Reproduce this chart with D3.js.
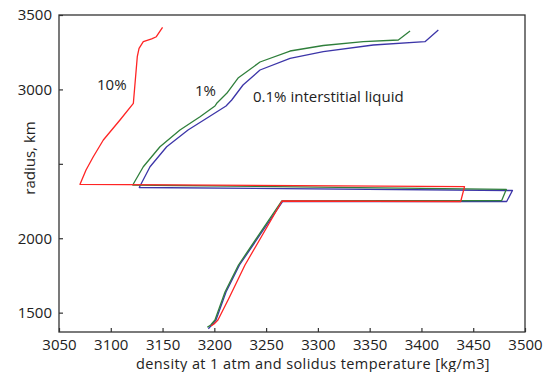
<!DOCTYPE html>
<html>
<head>
<meta charset="utf-8">
<script src="https://cdn.jsdelivr.net/npm/d3@7"></script>
<style>
body { margin:0; background:#fff; }
svg text { font-family:"Open Sans", "Noto Sans", sans-serif; fill:#222; }
.axis path { display:none; }
.axis line { stroke:#333; stroke-width:1.2; }
.axis text { font-size:15px; }
.curve { fill:none; stroke-width:1.3; stroke-linejoin:round; }
</style>
</head>
<body>
<div id="chart"></div>
<script>
var width = 547
var height = 372

// ticks
var xTicks = [3050,3100,3150,3200,3250,3300,3350,3400,3450,3500]
var yTicks = [1500,2000,2500,3000,3500]
var yTickLabels = ['1500','2000','','3000','3500']

// 10% interstitial liquid (red)
var density10 = [3150,3144,3139.5,3131.4,3127.3,3125.6,3121.8,3108.9,3092.8,3083.1,3076.1,3070.3,3441.6,3437.9,3265.4,3229.6,3214.2,3203.5,3199.7,3196.8]
var radius10  = [3417,3354,3339,3320.5,3276,3219.7,2906.6,2794.4,2660,2547.8,2458.5,2362.4,2346.3,2246.8,2250.2,1820.2,1598.4,1450.6,1423.8,1410.3]

// 1% interstitial liquid (green)
var density1 = [3389,3377.7,3343.9,3305.2,3273.1,3244.1,3222.9,3212,3202.3,3200.6,3186.2,3166.8,3147.5,3131.4,3121.2,3482,3477.5,3265,3223.3,3210.3,3200.6,3196.5,3193.2]
var radius1  = [3392.4,3332,3320.5,3295,3258,3184.1,3076.6,2973.8,2906.6,2888.5,2816.6,2727.2,2615,2480.6,2357.7,2328.8,2253.5,2250.2,1820.2,1638.8,1450.6,1417,1401.6]

// 0.1% interstitial liquid (blue)
var density01 = [3416.3,3403.4,3353.5,3305.2,3273.1,3244.1,3227.7,3216.8,3211.3,3194.9,3174.6,3154,3137.9,3127.5,3487.9,3482.3,3266,3224.3,3211.3,3201.6,3197.5,3194.2]
var radius01  = [3399,3320.5,3298.4,3253.3,3209,3130.4,3029.6,2928.8,2888.5,2816.6,2727.2,2615,2480.6,2340.9,2320.7,2246.8,2246.8,1820.2,1638.8,1450.6,1417,1392]

var series = [
	{name:'0.1%', color:'#3c35a8', x:density01, y:radius01},
	{name:'1%',   color:'#2f7f3b', x:density1,  y:radius1 },
	{name:'10%',  color:'#ff2424', x:density10, y:radius10}
]

var x = d3.scaleLinear().domain([3050,3500]).range([59,525])
var y = d3.scaleLinear().domain([1370,3500]).range([332,15])

var svg = d3.select('#chart').append('svg')
	.attr('width',width).attr('height',height)

var line = d3.line()
	.x(function(d){ return x(d[0]) })
	.y(function(d){ return y(d[1]) })

var curves = svg.append('g').attr('id','curves')
series.forEach(function(s){
	var pts = s.x.map(function(v,i){ return [v,s.y[i]] })
	curves.append('path').datum(pts).attr('class','curve')
		.style('stroke',s.color).attr('d',line)
})

// axes, ticks point inwards
svg.append('g').attr('class','axis')
	.attr('transform','translate(0,332)')
	.call(d3.axisBottom(x).tickValues(xTicks).tickFormat(d3.format('d'))
		.tickSizeInner(-4).tickSizeOuter(0).tickPadding(7))

svg.append('g').attr('class','axis')
	.attr('transform','translate(59,0)')
	.call(d3.axisLeft(y).tickValues(yTicks)
		.tickFormat(function(d,i){ return yTickLabels[i] })
		.tickSizeInner(-4).tickSizeOuter(0).tickPadding(7))

svg.append('rect')
	.attr('x',x(3050)).attr('y',y(3500))
	.attr('width',x(3500)-x(3050)).attr('height',y(1370)-y(3500))
	.style('fill','none').style('stroke','#333').style('stroke-width',1.3)

// labels
svg.append('text').attr('x',313).attr('y',369).attr('text-anchor','middle')
	.style('font-size','14.5px').style('letter-spacing','0.4px')
	.text('density at 1 atm and solidus temperature [kg/m3]')

svg.append('text').attr('transform','translate(35,158) rotate(-90)')
	.attr('text-anchor','middle').style('font-size','15px').text('radius, km')

svg.append('text').attr('x',97).attr('y',90).style('font-size','15px').text('10%')
svg.append('text').attr('x',195).attr('y',96).style('font-size','15px').text('1%')
svg.append('text').attr('x',253).attr('y',102).style('font-size','15px').text('0.1% interstitial liquid')
</script>
</body>
</html>
